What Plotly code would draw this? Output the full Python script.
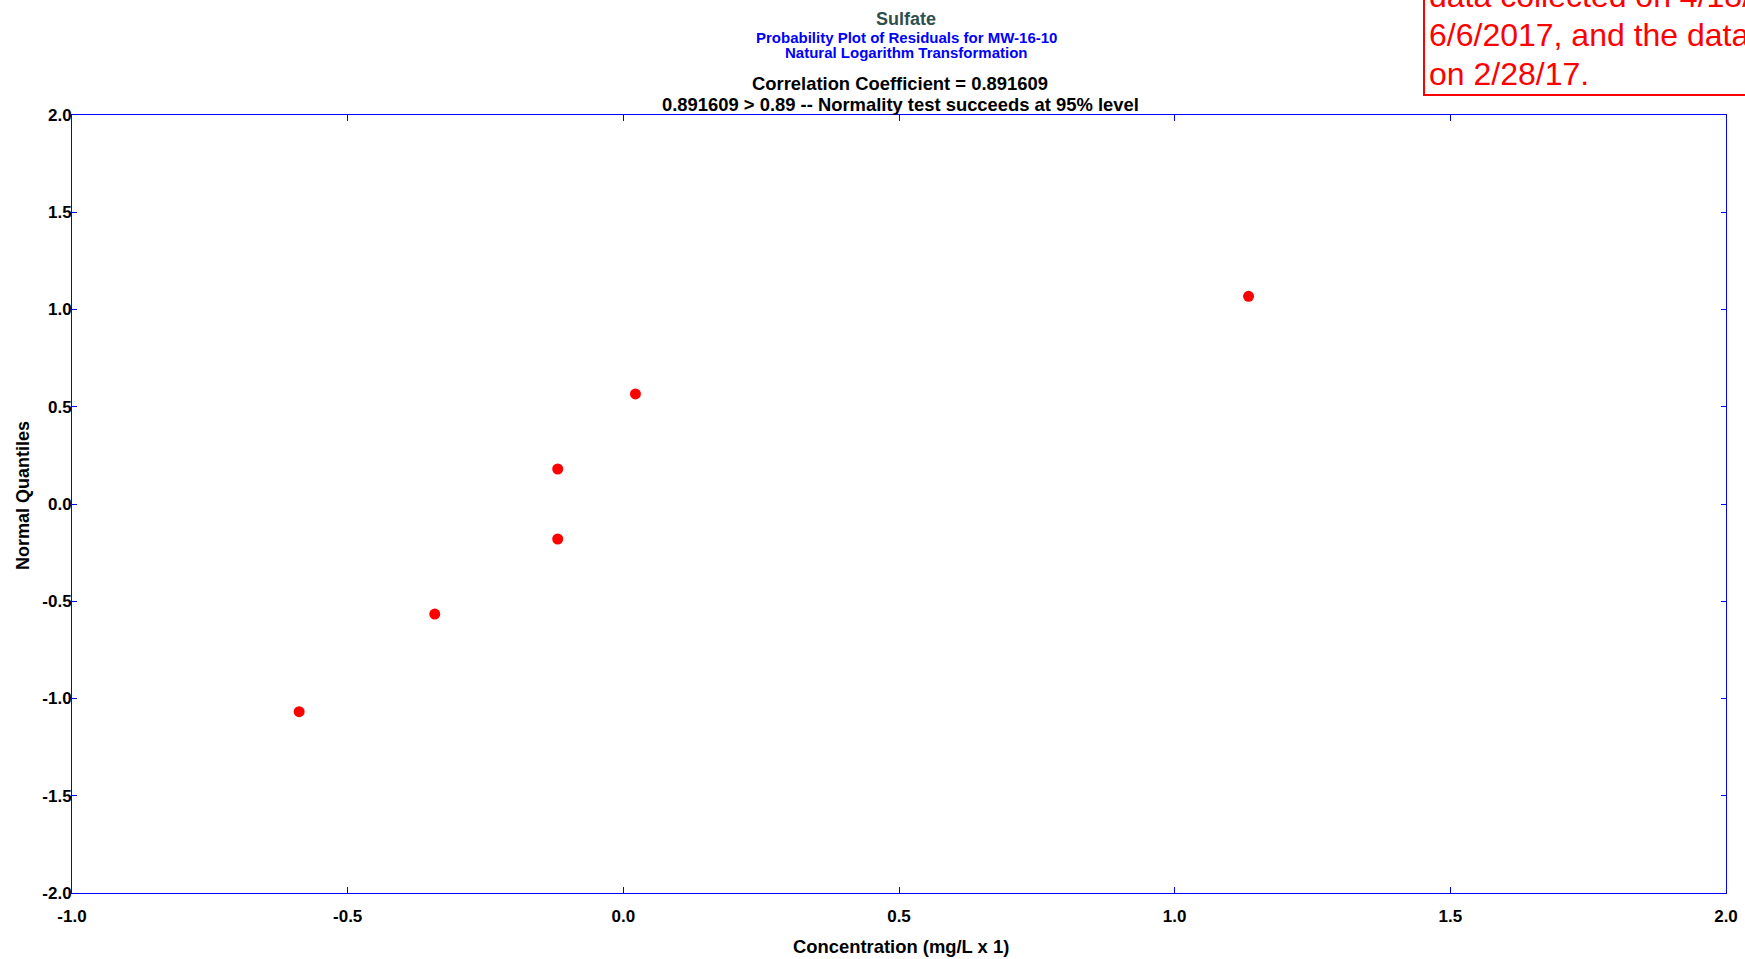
import plotly.graph_objects as go

# Data
concentration = [-0.588, -0.342, -0.119, -0.119, 0.022, 1.134]
normal_quantiles = [-1.068, -0.566, -0.180, 0.180, 0.566, 1.068]
x_ticks = [-1.0, -0.5, 0.0, 0.5, 1.0, 1.5, 2.0]
y_ticks = [-2.0, -1.5, -1.0, -0.5, 0.0, 0.5, 1.0, 1.5, 2.0]

W, H = 1745, 959
L, R, T, B = 72, 19, 115, 66
PW, PH = W - L - R, H - T - B
FONT = "Liberation Sans, Arial, sans-serif"


def px(xp):
    return (xp - L) / PW


def py(yp):
    return (H - B - yp) / PH


fig = go.Figure()
fig.add_trace(go.Scatter(
    x=concentration, y=normal_quantiles, mode="markers",
    marker=dict(color="#FF0000", size=11, line=dict(width=0)),
    showlegend=False, hoverinfo="x+y"))

axis_common = dict(
    showgrid=False, zeroline=False, showline=True, linecolor="#0000FF",
    linewidth=1, mirror="ticks", ticks="inside", tickcolor="#0000FF",
    tickwidth=1, automargin=False,
    tickfont=dict(family=FONT, size=17, color="black", weight="bold"),
)
fig.update_xaxes(range=[-1, 2], tickvals=x_ticks,
                 ticktext=[f"{v:.1f}" for v in x_ticks], ticklen=6,
                 ticklabelstandoff=8, **axis_common)
fig.update_yaxes(range=[-2, 2], tickvals=y_ticks,
                 ticktext=[f"{v:.1f}" for v in y_ticks], ticklen=5,
                 ticklabelstandoff=-4, **axis_common)

anns = []


def text(xp, yp, s, size, color, **kw):
    anns.append(dict(x=px(xp), y=py(yp), xref="paper", yref="paper", text=s,
                     showarrow=False, font=dict(family=FONT, size=size, color=color,
                                                weight=kw.pop("weight", "bold")),
                     xanchor=kw.pop("xanchor", "center"), yanchor="middle", **kw))


text(906, 25.7 - 0.35 * 18, "Sulfate", 18, "#2F4F4F")
text(906, 42.7 - 0.35 * 15, "Probability Plot of Residuals for MW-16-10", 15, "#0000FF")
text(906, 57.5 - 0.35 * 15, "Natural Logarithm Transformation", 15, "#0000FF")
text(900, 90 - 0.35 * 18, "Correlation Coefficient = 0.891609", 18.4, "black")
text(900, 110.7 - 0.35 * 18, "0.891609 &gt; 0.89 -- Normality test succeeds at 95% level", 18.4, "black")
text(901, 953 - 0.35 * 18, "Concentration (mg/L x 1)", 18.4, "black")
text(23, 496, "Normal Quantiles", 18, "black", textangle=-90)

# Red note box (partly outside the page, as in the reference)
note_lines = ["data collected on 4/18/2017 and", "6/6/2017, and the data", "on 2/28/17."]
note_baselines = [7.5, 46.7, 85.3]
for s, b in zip(note_lines, note_baselines):
    text(1427, b - 0.35 * 32, s, 32, "#FF0000", xanchor="left", weight="normal")

fig.update_layout(
    width=W, height=H, autosize=False,
    margin=dict(l=L, r=R, t=T, b=B, pad=0),
    paper_bgcolor="white", plot_bgcolor="white",
    annotations=anns,
    shapes=[dict(type="rect", xref="paper", yref="paper",
                 x0=px(1424), x1=px(1800), y0=py(95), y1=py(-20),
                 line=dict(color="#FF0000", width=2), fillcolor="rgba(0,0,0,0)")],
)

fig.write_html("out.html", config={"displayModeBar": False},
               post_script="document.body.style.margin='0';document.body.style.overflow='hidden';")
